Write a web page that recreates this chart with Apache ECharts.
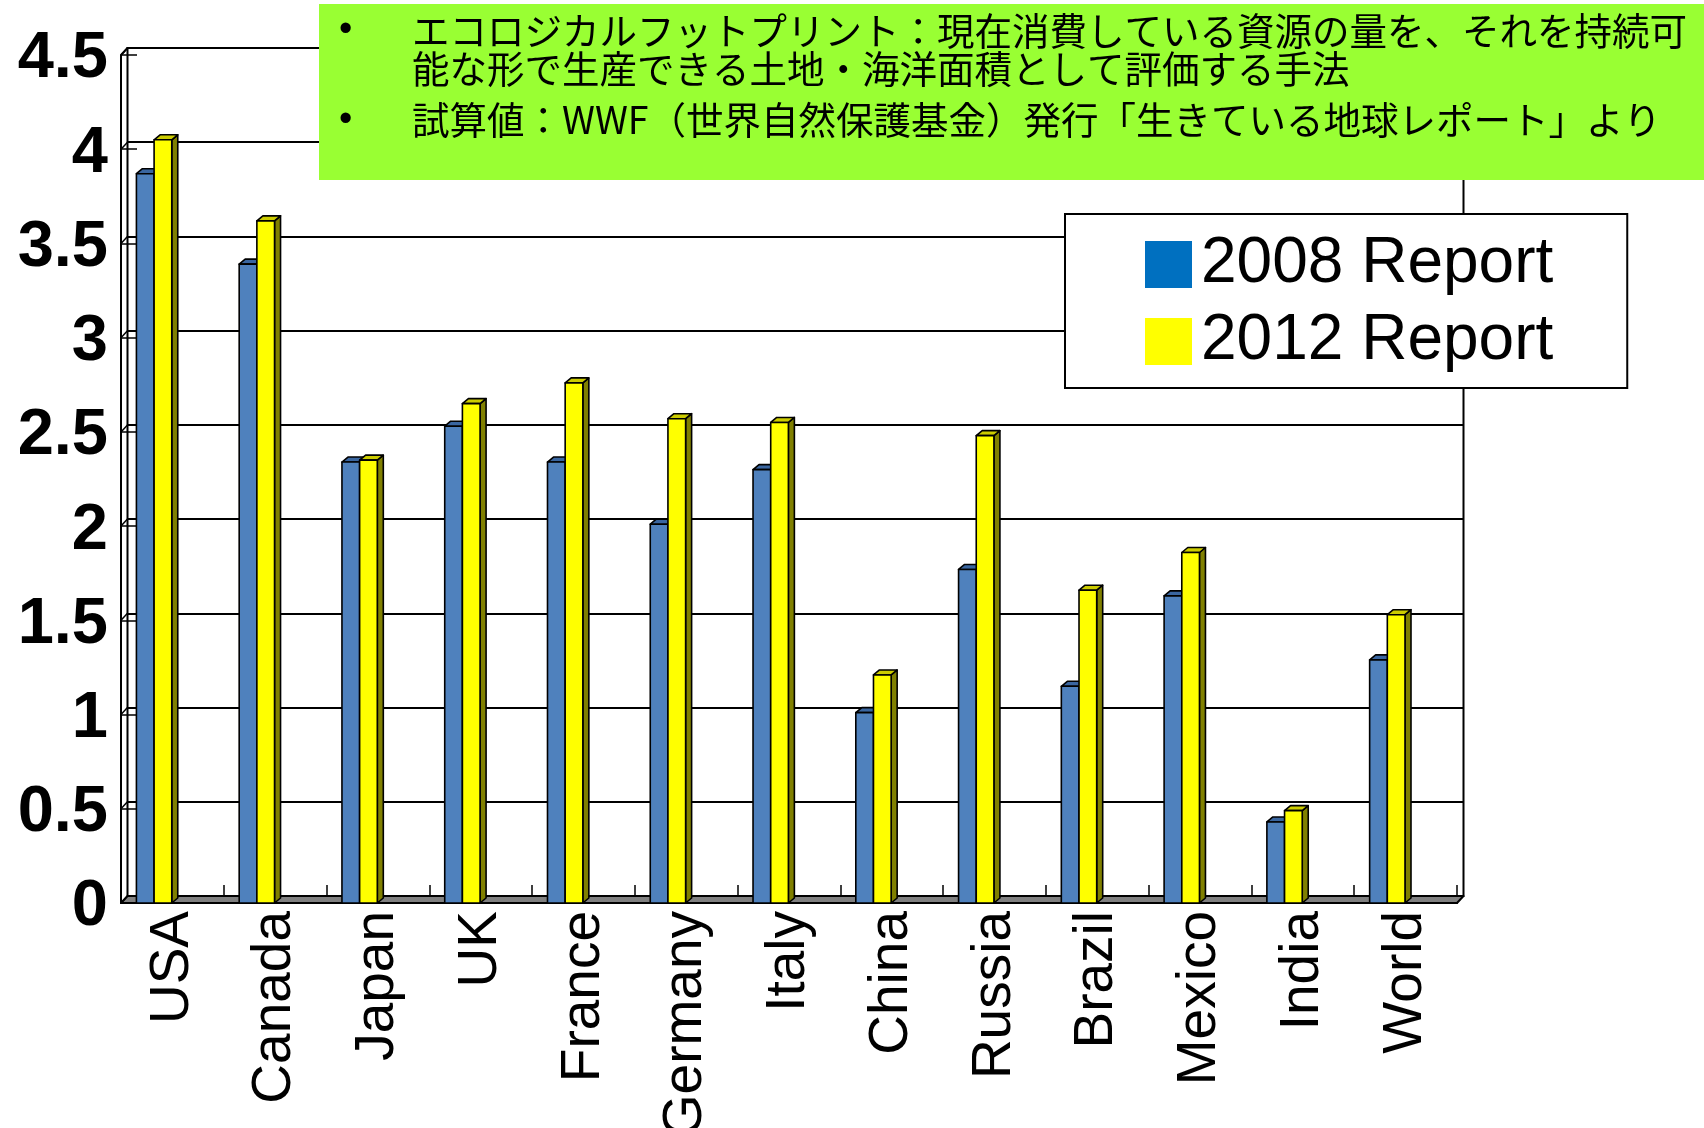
<!DOCTYPE html>
<html><head><meta charset="utf-8">
<script src="https://cdn.jsdelivr.net/npm/echarts@6/dist/echarts.min.js"></script>
<style>html,body{margin:0;padding:0;background:#fff}#c{width:1704px;height:1128px}</style>
</head><body><div id="c"></div>
<script>
// ---- data ----
const categories = ['USA','Canada','Japan','UK','France','Germany','Italy','China','Russia','Brazil','Mexico','India','World'];
const report2008 = [3.87,3.39,2.34,2.53,2.34,2.01,2.30,1.01,1.77,1.15,1.63,0.43,1.29];
const report2012 = [4.05,3.62,2.35,2.65,2.76,2.57,2.55,1.21,2.48,1.66,1.86,0.49,1.53];
const yTicks = [0,0.5,1,1.5,2,2.5,3,3.5,4,4.5];
const yTickLabels = ['0','0.5','1','1.5','2','2.5','3','3.5','4','4.5'];
const seriesNames = ['2008 Report','2012 Report'];
const noteLine1 = 'エコロジカルフットプリント：現在消費している資源の量を、それを持続可\n能な形で生産できる土地・海洋面積として評価する手法';
const noteLine2 = '試算値：WWF（世界自然保護基金）発行「生きている地球レポート」より';

// ---- style constants ----
const DX = 6.5, DY = -7;     // wall/floor depth
const BDX = 6, BDY = -5;     // bar depth
const faces = [
  {front:'#4F81BD', top:'#3A66A0', side:'#2C4F7C'},
  {front:'#FFFF00', top:'#CCCC00', side:'#808000'}
];

function barRenderer(slot) {
  return function (params, api) {
    const idx = api.value(0), val = api.value(1);
    const top = api.coord([idx, val]);
    const base = api.coord([idx, 0]);
    const bw = api.size([1, 0])[0];
    const w = bw * 0.172;
    const x0 = top[0] - bw * 0.35 + slot * w;
    const x1 = x0 + w;
    const yt = top[1], yb = base[1];
    const f = faces[slot];
    const st = {stroke:'#000', lineWidth:1.6, lineJoin:'round'};
    return {type:'group', children:[
      {type:'polygon', shape:{points:[[x1,yt],[x1+BDX,yt+BDY],[x1+BDX,yb+BDY],[x1,yb]]}, style:Object.assign({fill:f.side}, st)},
      {type:'polygon', shape:{points:[[x0,yt],[x1,yt],[x1+BDX,yt+BDY],[x0+BDX,yt+BDY]]}, style:Object.assign({fill:f.top}, st)},
      {type:'rect', shape:{x:x0, y:yt, width:w, height:yb-yt}, style:Object.assign({fill:f.front}, st)}
    ]};
  };
}

function decoRenderer(params, api) {
  const cs = params.coordSys;
  const x0 = cs.x, x1 = cs.x + cs.width, yt = cs.y, yb = cs.y + cs.height;
  const ch = [];
  ch.push({type:'polygon', shape:{points:[[x0,yb],[x1,yb],[x1+DX,yb+DY],[x0+DX,yb+DY]]},
    style:{fill:'#808080', stroke:'#000', lineWidth:2, lineJoin:'round'}});
  yTicks.forEach(function (v) {
    const p = api.coord([0, v]);
    ch.push({type:'line', shape:{x1:x0, y1:p[1], x2:x0+DX, y2:p[1]+DY}, style:{stroke:'#000', lineWidth:1.5}});
  });
  ch.push({type:'line', shape:{x1:x0, y1:yt, x2:x0+DX, y2:yt+DY}, style:{stroke:'#000', lineWidth:2}});
  return {type:'group', children:ch};
}

const Z = 200;
const chart = echarts.init(document.getElementById('c'), null, {renderer:'canvas'});
chart.setOption({
  backgroundColor:'#fff',
  animation:false,
  grid:[
    {left:121, right:247, top:55, bottom:225, containLabel:false, outerBoundsMode:'none'},
    {left:127.5, right:240.5, top:48, bottom:232, containLabel:false, outerBoundsMode:'none',
     show:true, borderColor:'#000', borderWidth:2, backgroundColor:'transparent'}
  ],
  xAxis:[
    {type:'category', gridIndex:0, data:categories, boundaryGap:true,
     axisLine:{show:true, lineStyle:{color:'#000', width:2}},
     axisTick:{show:true, inside:true, length:18, lineStyle:{color:'#000', width:1.5}},
     axisLabel:{rotate:90, margin:8, fontFamily:'Liberation Sans', fontSize:55, color:'#000', interval:0},
     splitLine:{show:false}},
    {type:'category', gridIndex:1, data:categories, show:false}
  ],
  yAxis:[
    {type:'value', gridIndex:0, min:0, max:4.5, interval:0.5,
     axisLine:{show:true, lineStyle:{color:'#000', width:2}},
     axisTick:{show:true, inside:true, length:16, lineStyle:{color:'#000', width:1.5}},
     axisLabel:{margin:13, fontFamily:'Liberation Sans', fontWeight:'bold', fontSize:65, color:'#000',
       verticalAlign:'top', lineHeight:9,
       formatter:function(v){ const i = yTicks.indexOf(v); return i >= 0 ? yTickLabels[i] : ''; }},
     splitLine:{show:false}},
    {type:'value', gridIndex:1, min:0, max:4.5, interval:0.5,
     axisLine:{show:false}, axisTick:{show:false}, axisLabel:{show:false},
     splitLine:{show:true, lineStyle:{color:'#000', width:2}}}
  ],
  legend:{
    data:[
      {name:seriesNames[0], icon:'rect', itemStyle:{color:'#0070C0', borderWidth:0}},
      {name:seriesNames[1], icon:'rect', itemStyle:{color:'#FFFF00', borderWidth:0}}
    ],
    orient:'vertical', left:1065, top:214, padding:[15,74,11,80],
    itemWidth:47, itemHeight:47, itemGap:6,
    backgroundColor:'#fff', borderColor:'#000', borderWidth:2, borderRadius:0,
    textStyle:{fontFamily:'Liberation Sans', fontSize:64, color:'#000', lineHeight:64, padding:[7,0,0,4]},
    selectedMode:false, z:20
  },
  graphic:[
    {type:'rect', z:Z, shape:{x:319, y:4, width:1385, height:176}, style:{fill:'#99FF33'}},
    {type:'text', z:Z+1, x:339, y:12, style:{text:'•', fontFamily:'Liberation Sans', fontSize:38, fill:'#000'}},
    {type:'text', z:Z+1, x:339, y:102, style:{text:'•', fontFamily:'Liberation Sans', fontSize:38, fill:'#000'}},
    {type:'text', z:Z+1, x:412, y:12, style:{text:noteLine1, fontFamily:'Noto Sans CJK JP', fontSize:37.5, lineHeight:38, fill:'#000'}},
    {type:'text', z:Z+1, x:412, y:101, style:{text:noteLine2, fontFamily:'Noto Sans CJK JP', fontSize:37.5, lineHeight:38, fill:'#000'}}
  ],
  series:[
    {type:'custom', name:'deco', xAxisIndex:0, yAxisIndex:0, data:[[0,0]], renderItem:decoRenderer, silent:true, z:1},
    {type:'custom', name:seriesNames[0], xAxisIndex:0, yAxisIndex:0, itemStyle:{color:'#0070C0'},
     data:report2008.map(function(v,i){return [i,v];}), renderItem:barRenderer(0), z:3},
    {type:'custom', name:seriesNames[1], xAxisIndex:0, yAxisIndex:0, itemStyle:{color:'#FFFF00'},
     data:report2012.map(function(v,i){return [i,v];}), renderItem:barRenderer(1), z:4}
  ]
});
</script></body></html>
